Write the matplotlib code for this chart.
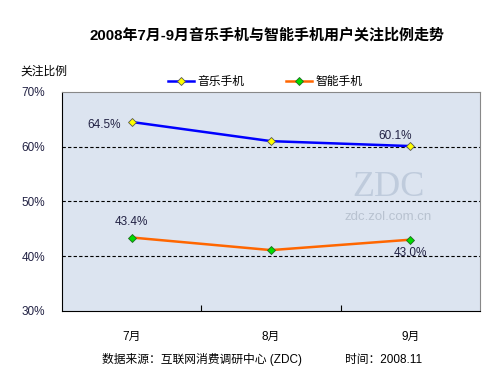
import matplotlib
matplotlib.use("Agg")
import matplotlib.pyplot as plt

plt.rcParams['font.family'] = ['Liberation Sans', 'Noto Sans CJK SC', 'DejaVu Sans']

months = ['7月', '8月', '9月']
music = [64.5, 61.0, 60.1]
smart = [43.4, 41.1, 43.0]
yticks = [30, 40, 50, 60, 70]

fig = plt.figure(figsize=(5, 3.75), dpi=100)
ax = fig.add_axes([0.124, 0.171, 0.836, 0.584])
ax.set_facecolor('#dce4f0')

x = [i + 0.5 for i in range(len(months))]
l1, = ax.plot(x, music, color='#0000ff', lw=1.8, marker='D', ms=4.5,
              mfc='#ffff00', mec='#555555', mew=0.6, label='音乐手机', zorder=3)
l2, = ax.plot(x, smart, color='#ff6600', lw=1.8, marker='D', ms=4.5,
              mfc='#00dd00', mec='#226622', mew=0.6, label='智能手机', zorder=3)

for yv in [40, 50, 60]:
    ax.axhline(yv, color='black', ls=(0, (3, 2)), lw=0.8, zorder=1)

ax.set_xlim(0, 3)
ax.set_ylim(30, 70)
ax.set_yticks(yticks)
ax.set_yticklabels(['%d%%' % v for v in yticks], fontsize=8.5, color='#222244')
ax.tick_params(axis='y', length=0, pad=12)
ax.set_xticks([1, 2])
ax.set_xticklabels(['', ''])
ax.tick_params(axis='x', direction='in', length=4, color='black')
for i, m in enumerate(months):
    ax.text(x[i], -0.09, m, transform=ax.get_xaxis_transform(), ha='center',
            va='top', fontsize=8.5)

for s in ['left', 'bottom']:
    ax.spines[s].set_color('black')
for s in ['top', 'right']:
    ax.spines[s].set_color('#888888')

# data labels
ax.annotate('64.5%', (x[0], music[0]), xytext=(-8, -2), textcoords='offset points',
            ha='right', va='center', fontsize=8.5, color='#222244')
ax.annotate('60.1%', (x[2], music[2]), xytext=(1, 3), textcoords='offset points',
            ha='right', va='bottom', fontsize=8.5, color='#222244')
ax.annotate('43.4%', (x[0], smart[0]), xytext=(0, 7), textcoords='offset points',
            ha='center', va='bottom', fontsize=8.5, color='#222244')
ax.annotate('43.0%', (x[2], smart[2]), xytext=(0, -5), textcoords='offset points',
            ha='center', va='top', fontsize=8.5, color='#222244')

# watermark
ax.text(0.78, 0.565, 'ZDC', transform=ax.transAxes, ha='center', va='center',
        fontsize=26, family='Liberation Serif', color='#bfcbdc', zorder=0)
ax.text(0.78, 0.43, 'zdc.zol.com.cn', transform=ax.transAxes, ha='center', va='center',
        fontsize=9.5, color='#b8c2d0', zorder=0)

fig.text(0.533, 0.905, '2008年7月-9月音乐手机与智能手机用户关注比例走势', ha='center',
         va='center', fontsize=10.8, fontweight='bold')
fig.text(0.04, 0.81, '关注比例', ha='left', va='center', fontsize=8.5)
fig.legend(handles=[l1, l2], loc='center', bbox_to_anchor=(0.53, 0.78), ncol=2,
           frameon=False, fontsize=8.5, handlelength=2.2, columnspacing=3.5,
           handletextpad=0.3)
fig.text(0.205, 0.04, '数据来源：互联网消费调研中心 (ZDC)', ha='left', va='center', fontsize=8.5)
fig.text(0.69, 0.04, '时间：2008.11', ha='left', va='center', fontsize=8.5)

fig.savefig('out.png', dpi=100)
